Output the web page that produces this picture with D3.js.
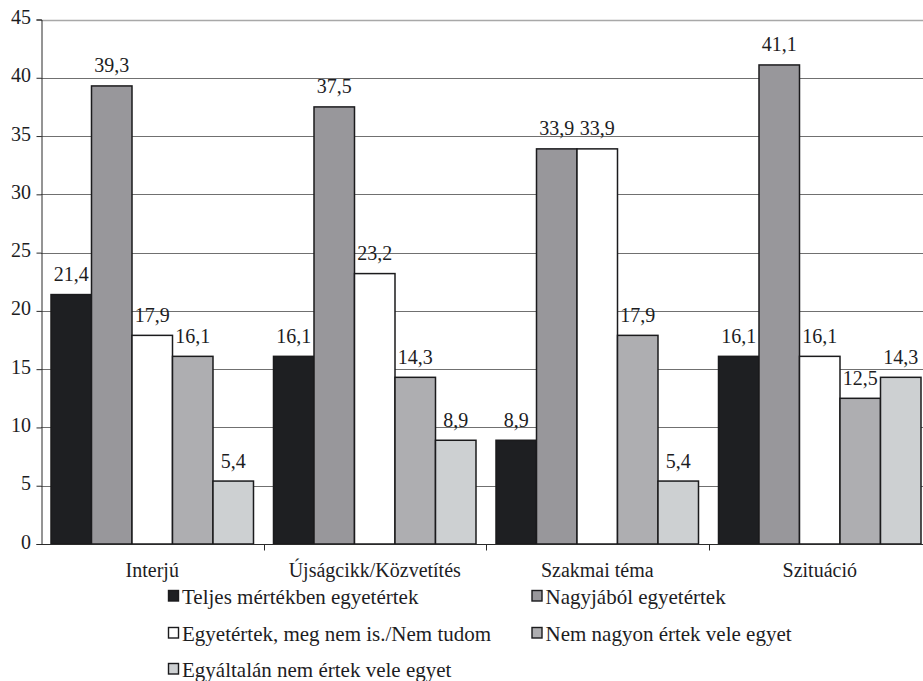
<!DOCTYPE html>
<html>
<head>
<meta charset="utf-8">
<script src="https://cdn.jsdelivr.net/npm/d3@7"></script>
<style>
  html, body { margin: 0; padding: 0; background: #fff; }
  svg { display: block; }
  svg text { font-family: "Times New Roman", "Liberation Serif", Tinos, serif !important; }
</style>
</head>
<body>
<svg id="chart" width="923" height="681" font-family="Times New Roman, serif"></svg>
<script>
// Categories and series
const categories = ["Interjú", "Újságcikk/Közvetítés", "Szakmai téma", "Szituáció"];
const seriesNames = [
  "Teljes mértékben egyetértek",
  "Nagyjából egyetértek",
  "Egyetértek, meg nem is./Nem tudom",
  "Nem nagyon értek vele egyet",
  "Egyáltalán nem értek vele egyet"
];
const teljes     = [21.4, 16.1, 8.9, 16.1];
const nagyjabol  = [39.3, 37.5, 33.9, 41.1];
const semleges   = [17.9, 23.2, 33.9, 16.1];
const nemNagyon  = [16.1, 14.3, 17.9, 12.5];
const egyaltalan = [5.4, 8.9, 5.4, 14.3];
const yTicks = [0, 5, 10, 15, 20, 25, 30, 35, 40, 45];

const seriesValues = [teljes, nagyjabol, semleges, nemNagyon, egyaltalan];
const colors = ["#1e1f22", "#98979b", "#ffffff", "#aeaeb1", "#cdd0d2"];

const svg = d3.select("#chart");
const plotLeft = 41, plotRight = 931, plotTop = 19.5, plotBottom = 544;

const x0 = d3.scaleBand().domain(categories).range([plotLeft, plotRight]).paddingInner(0).paddingOuter(0);
const x1 = d3.scaleBand().domain(d3.range(seriesNames.length)).range([0, x0.bandwidth()])
  .paddingInner(0).paddingOuter(0.247);
const y = d3.scaleLinear().domain([0, 45]).range([plotBottom, plotTop]);

// Serif text helper
function label(g, x, yPos, str, anchor, size) {
  return g.append("text")
    .attr("x", x)
    .attr("y", yPos)
    .attr("text-anchor", anchor || "middle")
    .attr("font-family", "Times New Roman, serif")
    .attr("font-size", size || 20)
    .attr("fill", "#1d1d1f")
    .style("font-family", "'Times New Roman', 'Liberation Serif', serif")
    .style("font-size", (size || 20) + "px")
    .text(str);
}

// Horizontal gridlines
svg.append("g").selectAll("line").data(yTicks.filter(d => d > 0)).join("line")
  .attr("x1", plotLeft).attr("x2", 923)
  .attr("y1", d => Math.round(y(d)) + 0.5).attr("y2", d => Math.round(y(d)) + 0.5)
  .attr("stroke", d => d === 45 ? "#a8a8a8" : "#707070")
  .attr("stroke-width", d => d === 45 ? 1.6 : 1);

// Bars
const barG = svg.append("g");
categories.forEach((cat, ci) => {
  seriesValues.forEach((vals, si) => {
    const v = vals[ci];
    barG.append("rect")
      .attr("x", x0(cat) + x1(si))
      .attr("y", y(v))
      .attr("width", x1.bandwidth())
      .attr("height", y(0) - y(v))
      .attr("fill", colors[si])
      .attr("stroke", "#1b1b1d")
      .attr("stroke-width", 1.5);
  });
});

// Value labels
const lblG = svg.append("g");
categories.forEach((cat, ci) => {
  seriesValues.forEach((vals, si) => {
    const v = vals[ci];
    label(lblG, x0(cat) + x1(si) + x1.bandwidth() / 2, y(v) - 13.5, String(v).replace(".", ","));
  });
});

// Y axis
const yAxis = svg.append("g").attr("transform", `translate(${plotLeft + 0.5},0)`)
  .call(d3.axisLeft(y).tickValues(yTicks).tickSize(5).tickFormat(""));
yAxis.select(".domain").attr("stroke", "#2a2a2a");
yAxis.selectAll(".tick line").attr("stroke", "#2a2a2a");
yTicks.forEach(t => label(svg, 31, y(t) + 4.5, String(t), "end"));

// X axis
const xAxisG = svg.append("g").attr("transform", `translate(0,${plotBottom + 0.5})`);
xAxisG.append("line").attr("x1", plotLeft).attr("x2", 923).attr("stroke", "#2a2a2a");
xAxisG.selectAll("line.tk").data(categories.slice(1)).join("line").attr("class", "tk")
  .attr("x1", d => Math.round(x0(d)) + 0.5).attr("x2", d => Math.round(x0(d)) + 0.5)
  .attr("y1", 0).attr("y2", 6).attr("stroke", "#2a2a2a");
categories.forEach(c => label(svg, x0(c) + x0.bandwidth() / 2, 577, c));

// Legend
const legendPos = [
  [168.5, 604], [532, 604],
  [168.5, 641], [532, 641],
  [168.5, 677]
];
seriesNames.forEach((name, i) => {
  const [lx, ly] = legendPos[i];
  svg.append("rect")
    .attr("x", lx).attr("y", ly - 13.5).attr("width", 10).attr("height", 10.5)
    .attr("fill", colors[i]).attr("stroke", "#1b1b1d").attr("stroke-width", 1.4);
  label(svg, lx + 13.5, ly, name, "start", 21);
});
</script>
</body>
</html>
